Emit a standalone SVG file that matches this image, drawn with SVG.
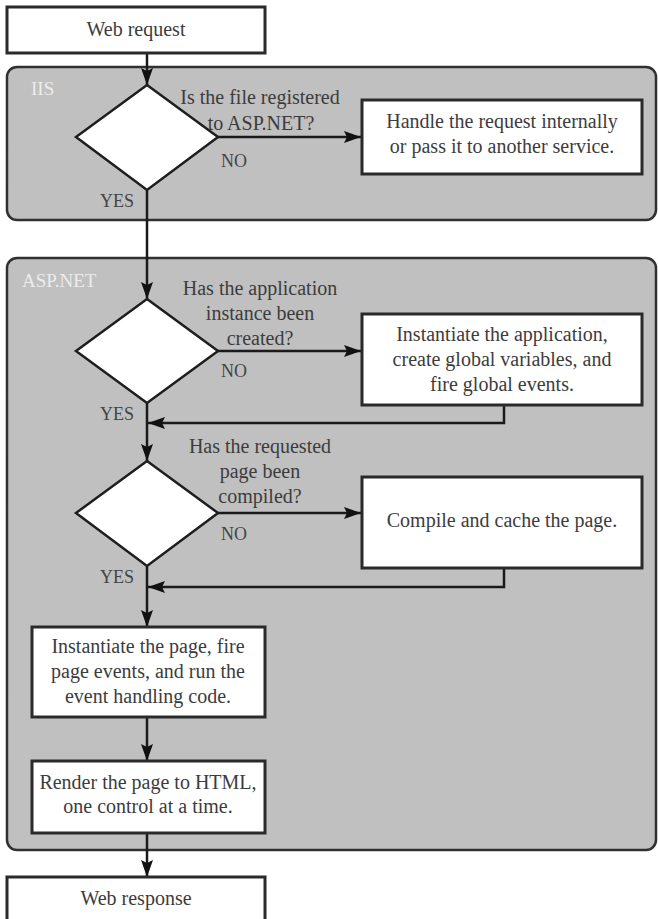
<svg xmlns="http://www.w3.org/2000/svg" width="658" height="919" viewBox="0 0 658 919">
<defs>
<style>
.panel{fill:#c0c0c0;stroke:#303030;stroke-width:2.5}
.box{fill:#ffffff;stroke:#2a2a2a;stroke-width:3}
.dia{fill:#ffffff;stroke:#1e1e1e;stroke-width:2.5}
.t{font-family:"Liberation Serif","Times New Roman",serif;font-size:20px;fill:#3c3c3c;text-anchor:middle}
.lbl{font-family:"Liberation Serif","Times New Roman",serif;font-size:18px;fill:#444444}
.plbl{font-family:"Liberation Serif","Times New Roman",serif;font-size:19px;fill:#ececec}
.c{fill:none;stroke:#1a1a1a;stroke-width:2.5}
</style>
<marker id="arr" markerUnits="userSpaceOnUse" viewBox="0 0 17 12" refX="17" refY="6" markerWidth="17" markerHeight="12" orient="auto">
<path d="M0,0 L17,6 L0,12 L3,6 z" fill="#111111"/>
</marker>
</defs>
<rect width="658" height="919" fill="#ffffff"/>

<g id="panel-iis">
<rect class="panel" x="7" y="67" width="649" height="153" rx="10"/>
<text class="plbl" x="31" y="95">IIS</text>
</g>
<g id="panel-aspnet">
<rect class="panel" x="7" y="258" width="649" height="592" rx="10"/>
<text class="plbl" x="22" y="287">ASP.NET</text>
</g>

<g id="connectors">
<line class="c" x1="147" y1="53" x2="147" y2="85" marker-end="url(#arr)"/>
<line class="c" x1="217" y1="137" x2="361" y2="137" marker-end="url(#arr)"/>
<line class="c" x1="147" y1="190" x2="147" y2="299" marker-end="url(#arr)"/>
<line class="c" x1="217" y1="351" x2="361" y2="351" marker-end="url(#arr)"/>
<polyline class="c" points="504,405 504,423 148,423" marker-end="url(#arr)"/>
<line class="c" x1="147" y1="403" x2="147" y2="461" marker-end="url(#arr)"/>
<line class="c" x1="217" y1="513" x2="361" y2="513" marker-end="url(#arr)"/>
<polyline class="c" points="504,568 504,587 148,587" marker-end="url(#arr)"/>
<line class="c" x1="147" y1="566" x2="147" y2="627" marker-end="url(#arr)"/>
<line class="c" x1="147" y1="717" x2="147" y2="761" marker-end="url(#arr)"/>
<line class="c" x1="147" y1="833" x2="147" y2="877" marker-end="url(#arr)"/>
</g>

<g id="web-request">
<rect class="box" x="7" y="7" width="258" height="46"/>
<text class="t" x="136" y="36">Web request</text>
</g>

<g id="d-registered">
<polygon class="dia" points="147,85 218,137 147,190 76,137"/>
<text class="t" x="260" y="104">Is the file registered</text>
<text class="t" x="261" y="130">to ASP.NET?</text>
<text class="lbl" x="221" y="167">NO</text>
<text class="lbl" x="100" y="207">YES</text>
</g>

<g id="handle-request">
<rect class="box" x="362" y="100" width="280" height="74"/>
<text class="t" x="502" y="128">Handle the request internally</text>
<text class="t" x="502" y="153">or pass it to another service.</text>
</g>

<g id="d-application">
<polygon class="dia" points="147,299 218,351 147,403 76,351"/>
<text class="t" x="260" y="295">Has the application</text>
<text class="t" x="260" y="320">instance been</text>
<text class="t" x="260" y="345">created?</text>
<text class="lbl" x="221" y="377">NO</text>
<text class="lbl" x="100" y="420">YES</text>
</g>

<g id="instantiate-app">
<rect class="box" x="362" y="314" width="280" height="91"/>
<text class="t" x="502" y="341">Instantiate the application,</text>
<text class="t" x="502" y="366">create global variables, and</text>
<text class="t" x="502" y="391">fire global events.</text>
</g>

<g id="d-compiled">
<polygon class="dia" points="147,461 218,513 147,566 76,513"/>
<text class="t" x="260" y="453">Has the requested</text>
<text class="t" x="260" y="478">page been</text>
<text class="t" x="260" y="503">compiled?</text>
<text class="lbl" x="221" y="540">NO</text>
<text class="lbl" x="100" y="583">YES</text>
</g>

<g id="compile-cache">
<rect class="box" x="362" y="477" width="280" height="91"/>
<text class="t" x="502" y="527">Compile and cache the page.</text>
</g>

<g id="instantiate-page">
<rect class="box" x="32" y="627" width="233" height="90"/>
<text class="t" x="148" y="653">Instantiate the page, fire</text>
<text class="t" x="148" y="678">page events, and run the</text>
<text class="t" x="148" y="703">event handling code.</text>
</g>

<g id="render-page">
<rect class="box" x="32" y="761" width="233" height="72"/>
<text class="t" x="148" y="789">Render the page to HTML,</text>
<text class="t" x="148" y="813">one control at a time.</text>
</g>

<g id="web-response">
<rect class="box" x="7" y="877" width="258" height="50"/>
<text class="t" x="136" y="905">Web response</text>
</g>
</svg>
